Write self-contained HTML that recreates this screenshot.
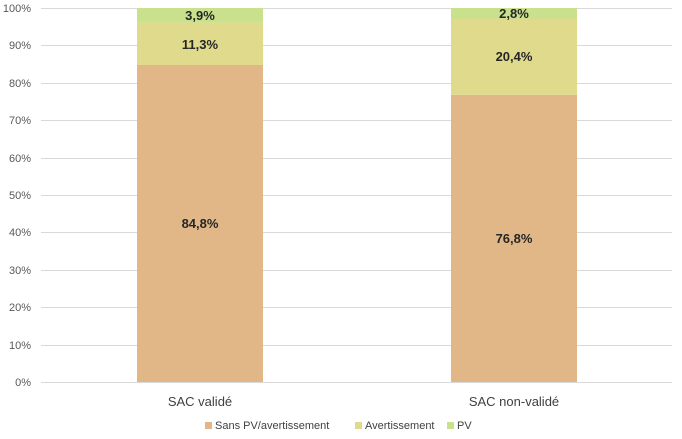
<!DOCTYPE html>
<html><head><meta charset="utf-8"><style>
body{margin:0;background:#fff}
svg{display:block;font-family:"Liberation Sans",sans-serif}
</style></head><body>
<svg width="682" height="439" viewBox="0 0 682 439">
<g stroke="#d9d9d9" stroke-width="1">
<line x1="41" x2="672" y1="8.5" y2="8.5"/>
<line x1="41" x2="672" y1="45.5" y2="45.5"/>
<line x1="41" x2="672" y1="83.5" y2="83.5"/>
<line x1="41" x2="672" y1="120.5" y2="120.5"/>
<line x1="41" x2="672" y1="158.5" y2="158.5"/>
<line x1="41" x2="672" y1="195.5" y2="195.5"/>
<line x1="41" x2="672" y1="232.5" y2="232.5"/>
<line x1="41" x2="672" y1="270.5" y2="270.5"/>
<line x1="41" x2="672" y1="307.5" y2="307.5"/>
<line x1="41" x2="672" y1="345.5" y2="345.5"/>
<line x1="41" x2="672" y1="382.5" y2="382.5"/>
</g>
<g font-size="11" fill="#595959" text-anchor="end">
<text x="31" y="12">100%</text><text x="31" y="49">90%</text><text x="31" y="87">80%</text>
<text x="31" y="124">70%</text><text x="31" y="162">60%</text><text x="31" y="199">50%</text>
<text x="31" y="236">40%</text><text x="31" y="274">30%</text><text x="31" y="311">20%</text>
<text x="31" y="349">10%</text><text x="31" y="386">0%</text>
</g>
<rect x="137" y="65" width="126" height="317" fill="#e2b788"/>
<rect x="137" y="22.6" width="126" height="42.4" fill="#e0da8c"/>
<rect x="137" y="8" width="126" height="14.6" fill="#c9e08c"/>
<rect x="451" y="94.8" width="126" height="287.2" fill="#e2b788"/>
<rect x="451" y="18.5" width="126" height="76.3" fill="#e0da8c"/>
<rect x="451" y="8" width="126" height="10.5" fill="#c9e08c"/>
<g font-size="13" font-weight="bold" fill="#262626" text-anchor="middle">
<text x="200" y="228">84,8%</text><text x="200" y="49">11,3%</text><text x="200" y="20">3,9%</text>
<text x="514" y="243">76,8%</text><text x="514" y="61">20,4%</text><text x="514" y="18">2,8%</text>
</g>
<g font-size="13" fill="#404040" text-anchor="middle">
<text x="200" y="406">SAC validé</text><text x="514" y="406">SAC non-validé</text>
</g>
<g font-size="11" fill="#404040">
<rect x="205" y="422" width="7" height="7" fill="#e2b788"/><text x="215" y="429">Sans PV/avertissement</text>
<rect x="355" y="422" width="7" height="7" fill="#e0da8c"/><text x="365" y="429">Avertissement</text>
<rect x="447" y="422" width="7" height="7" fill="#c9e08c"/><text x="457" y="429">PV</text>
</g>
</svg>
</body></html>
